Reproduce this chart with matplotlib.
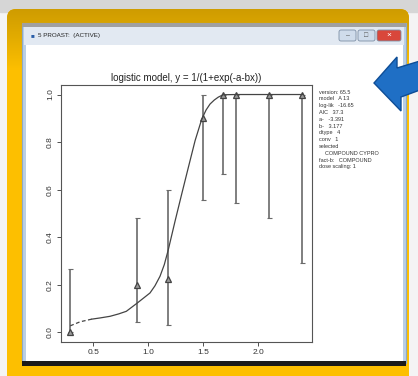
import matplotlib
matplotlib.use('Agg')
import numpy as np
import matplotlib.pyplot as plt
from matplotlib.colors import LinearSegmentedColormap
from matplotlib.patches import Rectangle, FancyBboxPatch, Polygon

plt.rcParams['font.family'] = ['Liberation Sans', 'DejaVu Sans']

# observed dose groups (log10 dose) and response fractions
dose = [0.29, 0.90, 1.18, 1.50, 1.68, 1.80, 2.10, 2.40]
resp = [0.00, 0.20, 0.225, 0.90, 1.00, 1.00, 1.00, 1.00]
ci_lo = [0.00, 0.045, 0.03, 0.555, 0.665, 0.545, 0.48, 0.29]
ci_hi = [0.265, 0.48, 0.60, 1.00, 1.00, 1.00, 1.00, 1.00]

# fitted curve
fit_x_dash = [0.29, 0.38, 0.485]
fit_y_dash = [0.028, 0.045, 0.056]
fit_x = [0.485, 0.56, 0.652, 0.73, 0.80, 0.90, 1.015, 1.06, 1.106, 1.145, 1.18, 1.243,
         1.303, 1.364, 1.425, 1.486, 1.525, 1.561, 1.60, 1.636, 1.68, 1.8, 2.1, 2.4]
fit_y = [0.056, 0.061, 0.068, 0.078, 0.089, 0.124, 0.166, 0.196, 0.236, 0.285, 0.345, 0.468,
         0.581, 0.694, 0.806, 0.897, 0.935, 0.960, 0.977, 0.989, 0.999, 1.0, 1.0, 1.0]

info = ['version: 65.5', 'model   A 13', 'log-lik   -16.65', 'AIC   37.3',
        'a-   -3.391', 'b-   3.177', 'dtype   4', 'conv   1', 'selected',
        '    COMPOUND CYPRO', 'fact-b:   COMPOUND', 'dose scaling: 1']

W, H = 418, 376
fig = plt.figure(figsize=(W / 100, H / 100), dpi=100)
fig.patch.set_facecolor('#f4f4f4')

# background drawn in pixel coordinates
bg = fig.add_axes([0, 0, 1, 1])
bg.set_xlim(0, W)
bg.set_ylim(H, 0)
bg.axis('off')
bg.add_patch(Rectangle((0, 0), W, 12, color='#d6d6d6', zorder=0))
frame = FancyBboxPatch((7, 9), 402, 380, boxstyle='round,pad=0,rounding_size=9',
                       fc='#fdbf00', ec='none', zorder=1)
bg.add_patch(frame)
gold = LinearSegmentedColormap.from_list('gold', ['#cf9c00', '#e4ad00', '#fdbf00'])
grad = bg.imshow(np.linspace(0, 1, 100).reshape(-1, 1), cmap=gold, aspect='auto',
                 extent=(7, 409, 70, 9), zorder=1.5)
grad.set_clip_path(frame)
bg.set_xlim(0, W)
bg.set_ylim(H, 0)
bg.add_patch(Rectangle((22, 23), 384, 340, fc='#b9cfe6', ec='#8fa9c4', lw=0.8, zorder=2))
bg.add_patch(Rectangle((22, 23), 384, 4, fc='#a0a0a0', lw=0, zorder=3))
bg.add_patch(Rectangle((24, 27), 380, 18, fc='#e2e9f2', lw=0, zorder=3))
bg.add_patch(Rectangle((26, 45), 377, 317, fc='white', lw=0, zorder=3))
bg.add_patch(Rectangle((22, 361), 384, 5, fc='#1a1a1a', lw=0, zorder=4))
bg.text(31, 36, '\u25a0', color='#2a5ea8', fontsize=4.5, va='center', zorder=5)
bg.text(38, 36, '5 PROAST:  (ACTIVE)', fontsize=4.5, va='center', color='#222', zorder=5)
for x0, w, c in [(339, 17, '#cfdceb'), (358, 17, '#cfdceb'), (377, 24, '#d9473b')]:
    bg.add_patch(FancyBboxPatch((x0, 30), w, 11, boxstyle='round,pad=0,rounding_size=2',
                                fc=c, ec='#7d8fa5', lw=0.6, zorder=5))
bg.text(347.5, 35.5, '\u2013', fontsize=5, ha='center', va='center', color='#555', zorder=6)
bg.text(366.5, 35.5, '\u25a1', fontsize=5, ha='center', va='center', color='#555', zorder=6)
bg.text(389, 35.5, '\u00d7', fontsize=6, ha='center', va='center', color='white', zorder=6)
for i, line in enumerate(info):
    bg.text(319, 92 + i * 6.8, line, fontsize=4, color='#333', va='center', zorder=6)
bg.add_patch(Polygon([(374, 83), (397, 57), (397, 68), (420, 61), (420, 90),
                      (401, 97), (401, 111)], closed=True,
                     fc='#1f6fc5', ec='#0e4d96', lw=1, zorder=7))

# the dose-response plot
ax = fig.add_axes([61 / W, 1 - 342 / H, 251 / W, 257 / H])
ax.set_xlim(0.206, 2.488)
ax.set_ylim(-0.04, 1.04)
ax.errorbar(dose, resp, yerr=[[r - l for r, l in zip(resp, ci_lo)],
                              [h - r for r, h in zip(resp, ci_hi)]],
            fmt='none', ecolor='#6a6a6a', elinewidth=1.2, capsize=1.8, capthick=0.8)
ax.plot(dose, resp, ls='none', marker='^', ms=5, mfc='#9a9a9a', mec='#444', mew=0.9)
ax.plot(fit_x_dash, fit_y_dash, ls=(0, (3, 2)), color='#444', lw=0.9)
ax.plot(fit_x, fit_y, color='#444', lw=0.9)
ax.set_title('logistic model, y = 1/(1+exp(-a-bx))', fontsize=7, color='#222', pad=3)
ax.set_xticks([0.5, 1.0, 1.5, 2.0])
ax.set_xticklabels(['0.5', '1.0', '1.5', '2.0'])
ax.set_yticks([0.0, 0.2, 0.4, 0.6, 0.8, 1.0])
ax.set_yticklabels(['0.0', '0.2', '0.4', '0.6', '0.8', '1.0'], rotation=90, va='center')
ax.tick_params(labelsize=6, length=3, width=0.6, colors='#333', pad=2)
for s in ax.spines.values():
    s.set_color('#555')
    s.set_linewidth(0.8)

fig.savefig('out.png', dpi=100)
